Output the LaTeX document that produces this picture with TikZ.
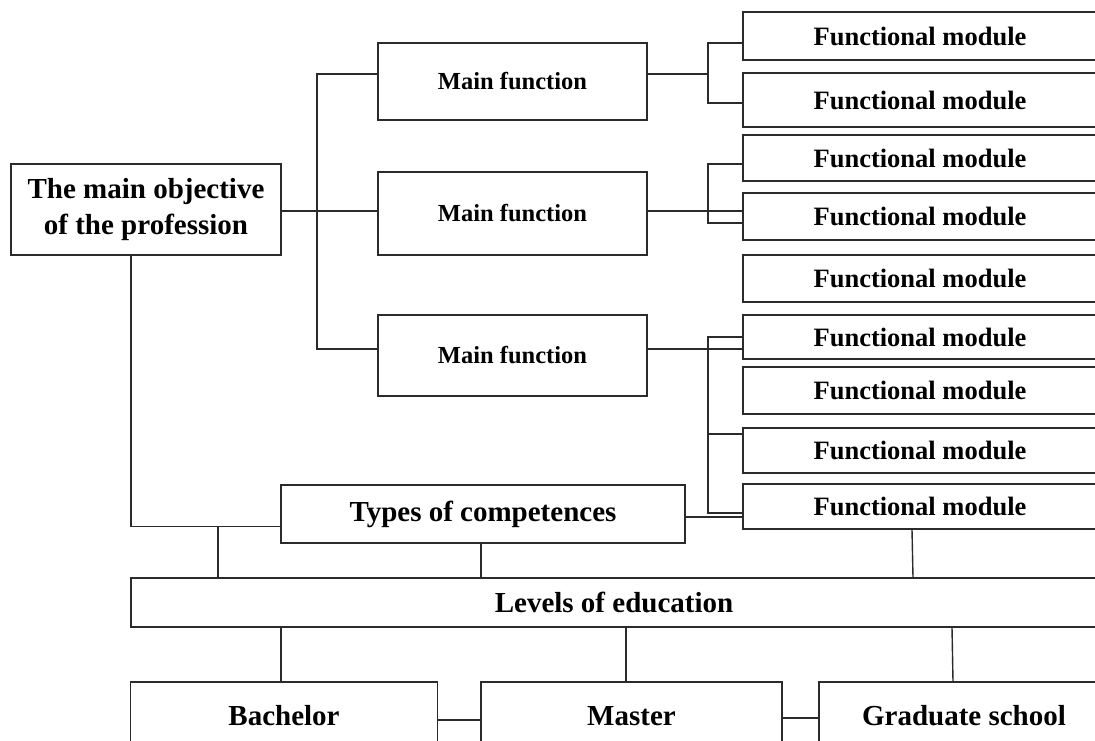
\documentclass[tikz,border=0pt]{standalone}
\usepackage{fontspec}
\setmainfont{Liberation Serif}
\definecolor{lc}{HTML}{2B2B2B}
\tikzset{
 bx/.style={draw=lc, line width=1.4pt, inner sep=0pt, align=center, anchor=center},
 big/.style={font=\fontsize{29}{36}\selectfont\bfseries},
 fmf/.style={font=\fontsize{26.5}{30}\selectfont\bfseries},
 mff/.style={font=\fontsize{24.5}{28}\selectfont\bfseries},
 fmbox/.style={bx, fmf, minimum width=354},
 mfbox/.style={bx, mff, minimum width=269},
 ln/.style={draw=lc, line width=1.4pt}
}
\begin{document}
\begin{tikzpicture}[x=1pt,y=-1pt]
\useasboundingbox (0,0) rectangle (1095,740);
\clip (0,0) rectangle (1095,740);
% main objective
\node[bx, big, minimum width=270, minimum height=91] (obj) at (146,209.5) {The main objective\\of the profession};
% main functions
\node[mfbox, minimum height=77] (mf1) at (512.5,81.5) {Main function};
\node[mfbox, minimum height=83] (mf2) at (512.5,213.5) {Main function};
\node[mfbox, minimum height=81] (mf3) at (512.5,355.5) {Main function};
% functional modules
\node[fmbox, minimum height=48] (fm1) at (920,36) {Functional module};
\node[fmbox, minimum height=54] (fm2) at (920,100) {Functional module};
\node[fmbox, minimum height=46] (fm3) at (920,158) {Functional module};
\node[fmbox, minimum height=47] (fm4) at (920,216.5) {Functional module};
\node[fmbox, minimum height=47] (fm5) at (920,278.5) {Functional module};
\node[fmbox, minimum height=44] (fm6) at (920,337) {Functional module};
\node[fmbox, minimum height=47] (fm7) at (920,390.5) {Functional module};
\node[fmbox, minimum height=45] (fm8) at (920,450.5) {Functional module};
\node[fmbox, minimum height=45] (fm9) at (920,506.5) {Functional module};
% competences and levels
\node[bx, big, minimum width=404, minimum height=58] (types) at (483,514) {Types of competences};
\node[bx, big, minimum width=966, minimum height=49] (levels) at (614,602.5) {Levels of education};
\node[bx, big, minimum width=306.5, minimum height=68] (bach) at (284,716) {Bachelor};
\node[bx, big, minimum width=301, minimum height=68] (master) at (631.5,716) {Master};
\node[bx, big, minimum width=290, minimum height=68] (grad) at (964,716) {Graduate school};
% objective to main functions
\draw[ln] (obj.east |- 0,211) -- (mf2.west |- 0,211);
\draw[ln] (mf1.west |- 0,74) -| (317,349) -- (mf3.west |- 0,349);
% objective down to competences
\draw[ln] (obj.south -| 131,0) |- (types.west |- 0,526.5);
\draw[ln] (218,526.5) -- (levels.north -| 218,0);
\draw[ln] (types.south -| 481,0) -- (levels.north -| 481,0);
\draw[ln] (types.east |- 0,517) -- (fm9.west |- 0,517);
\draw[ln] (fm9.south -| 912,0) -- (levels.north -| 913,0);
% levels to degrees
\draw[ln] (levels.south -| 281,0) -- (bach.north -| 281,0);
\draw[ln] (levels.south -| 626,0) -- (master.north -| 626,0);
\draw[ln] (levels.south -| 952,0) -- (grad.north -| 953,0);
\draw[ln] (bach.east |- 0,720) -- (master.west |- 0,720);
\draw[ln] (master.east |- 0,718) -- (grad.west |- 0,718);
% group 1
\draw[ln] (mf1.east |- 0,74) -- (708,74);
\draw[ln] (fm1.west |- 0,43) -| (708,103) -- (fm2.west |- 0,103);
% group 2
\draw[ln] (mf2.east |- 0,211) -- (fm4.west |- 0,211);
\draw[ln] (fm3.west |- 0,164) -| (708,223) -- (fm4.west |- 0,223);
% group 3
\draw[ln] (mf3.east |- 0,349) -- (fm6.west |- 0,349);
\draw[ln] (fm6.west |- 0,337) -| (708,513) -- (fm9.west |- 0,513);
\draw[ln] (708,434) -- (fm8.west |- 0,434);
\end{tikzpicture}
\end{document}
